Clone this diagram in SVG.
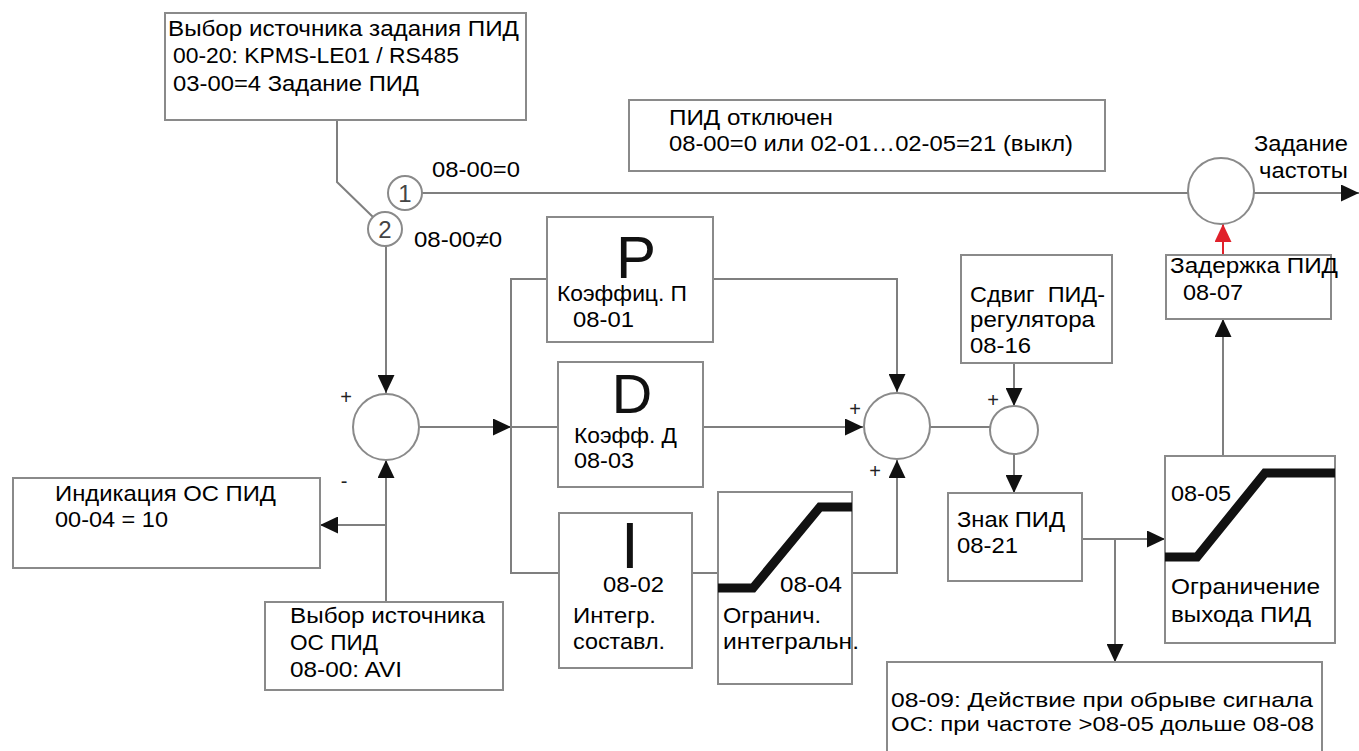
<svg xmlns="http://www.w3.org/2000/svg" width="1359" height="751" viewBox="0 0 1359 751">
<defs>
<style>
.box{fill:#fff;stroke:#8a8a8a;stroke-width:2}
.cir{fill:#fff;stroke:#8a8a8a;stroke-width:2}
.ln{fill:none;stroke:#7f7f7f;stroke-width:2}
.red{fill:none;stroke:#e0202a;stroke-width:2}
.curve{fill:none;stroke:#111;stroke-width:9;stroke-linejoin:miter}
.t{font-family:"Liberation Sans","Open Sans",sans-serif;font-size:22px;fill:#000}
.s{font-size:21px}
.big{font-family:"Liberation Sans","Open Sans",sans-serif;fill:#111;text-anchor:middle}
.sg{font-family:"Liberation Sans",sans-serif;font-size:20px;fill:#222;text-anchor:middle}
.num{font-family:"Liberation Sans",sans-serif;font-size:24px;fill:#444;text-anchor:middle}
</style>
<marker id="arr" markerUnits="userSpaceOnUse" markerWidth="18" markerHeight="17" refX="18" refY="8.5" orient="auto" viewBox="0 0 18 17">
<path d="M0,0 L18,8.5 L0,17 z" fill="#111"/>
</marker>
<marker id="arrRed" markerUnits="userSpaceOnUse" markerWidth="18" markerHeight="17" refX="18" refY="8.5" orient="auto" viewBox="0 0 18 17">
<path d="M0,0 L18,8.5 L0,17 z" fill="#e0202a"/>
</marker>
</defs>

<g id="connectors">
<polyline class="ln" points="337,121 337,182 373,217"/>
<line class="ln" x1="422" y1="193" x2="1188" y2="193"/>
<line class="ln" x1="1254" y1="193" x2="1359" y2="193" marker-end="url(#arr)"/>
<line class="ln" x1="386" y1="246" x2="386" y2="393" marker-end="url(#arr)"/>
<line class="ln" x1="420" y1="427" x2="511" y2="427" marker-end="url(#arr)"/>
<line class="ln" x1="511" y1="427" x2="558" y2="427"/>
<polyline class="ln" points="547,279 511,279 511,573 559,573"/>
<polyline class="ln" points="713,279 897,279 897,392" marker-end="url(#arr)"/>
<line class="ln" x1="703" y1="427" x2="863" y2="427" marker-end="url(#arr)"/>
<line class="ln" x1="692" y1="573" x2="718" y2="573"/>
<polyline class="ln" points="852,573 897,573 897,460" marker-end="url(#arr)"/>
<line class="ln" x1="930" y1="427" x2="990" y2="427"/>
<line class="ln" x1="1014" y1="363" x2="1014" y2="406" marker-end="url(#arr)"/>
<line class="ln" x1="1014" y1="454" x2="1014" y2="493" marker-end="url(#arr)"/>
<line class="ln" x1="1082" y1="539" x2="1165" y2="539" marker-end="url(#arr)"/>
<line class="ln" x1="1115" y1="539" x2="1115" y2="662" marker-end="url(#arr)"/>
<line class="ln" x1="1223" y1="456" x2="1223" y2="319" marker-end="url(#arr)"/>
<line class="red" x1="1223" y1="255" x2="1223" y2="224" marker-end="url(#arrRed)"/>
<line class="ln" x1="386" y1="602" x2="386" y2="460" marker-end="url(#arr)"/>
<line class="ln" x1="386" y1="525" x2="320" y2="525" marker-end="url(#arr)"/>
</g>

<g id="ref-source">
<rect class="box" x="165" y="13" width="361" height="107"/>
<text class="t" x="168" y="36" textLength="351" lengthAdjust="spacingAndGlyphs">Выбор источника задания ПИД</text>
<text class="t" x="173" y="63" textLength="286" lengthAdjust="spacingAndGlyphs">00-20: KPMS-LE01 / RS485</text>
<text class="t" x="173" y="91" textLength="246" lengthAdjust="spacingAndGlyphs">03-00=4 Задание ПИД</text>
</g>

<g id="switch1">
<circle class="cir" cx="405" cy="193" r="17"/>
<text class="num" x="405" y="202">1</text>
<text class="t" x="432" y="177" textLength="88" lengthAdjust="spacingAndGlyphs">08-00=0</text>
</g>

<g id="switch2">
<circle class="cir" cx="385" cy="229" r="17"/>
<text class="num" x="385" y="238">2</text>
<text class="t" x="414" y="247" textLength="88" lengthAdjust="spacingAndGlyphs">08-00≠0</text>
</g>

<g id="pid-off">
<rect class="box" x="629" y="100" width="476" height="71"/>
<text class="t" x="669" y="125" textLength="164" lengthAdjust="spacingAndGlyphs">ПИД отключен</text>
<text class="t" x="669" y="151" textLength="404" lengthAdjust="spacingAndGlyphs">08-00=0 или 02-01…02-05=21 (выкл)</text>
</g>

<g id="freq-sum">
<circle class="cir" cx="1221" cy="191" r="33"/>
<text class="t" x="1254" y="151" textLength="94" lengthAdjust="spacingAndGlyphs">Задание</text>
<text class="t" x="1259" y="178" textLength="89" lengthAdjust="spacingAndGlyphs">частоты</text>
</g>

<g id="sum1">
<circle class="cir" cx="386" cy="427" r="33"/>
<text class="sg" x="346" y="404">+</text>
<text class="sg" x="344" y="488">-</text>
</g>

<g id="fb-display">
<rect class="box" x="13" y="478" width="307" height="90"/>
<text class="t" x="55" y="501" textLength="221" lengthAdjust="spacingAndGlyphs">Индикация ОС ПИД</text>
<text class="t" x="55" y="527" textLength="113" lengthAdjust="spacingAndGlyphs">00-04 = 10</text>
</g>

<g id="fb-source">
<rect class="box" x="265" y="602" width="238" height="88"/>
<text class="t" x="290" y="623" textLength="195" lengthAdjust="spacingAndGlyphs">Выбор источника</text>
<text class="t" x="290" y="650" textLength="88" lengthAdjust="spacingAndGlyphs">ОС ПИД</text>
<text class="t" x="290" y="677" textLength="112" lengthAdjust="spacingAndGlyphs">08-00: AVI</text>
</g>

<g id="p-block">
<rect class="box" x="547" y="217" width="166" height="125"/>
<text class="big" x="636" y="278" font-size="60">P</text>
<text class="t" x="557" y="301" textLength="130" lengthAdjust="spacingAndGlyphs">Коэффиц. П</text>
<text class="t" x="573" y="327" textLength="61" lengthAdjust="spacingAndGlyphs">08-01</text>
</g>

<g id="d-block">
<rect class="box" x="558" y="362" width="145" height="125"/>
<text class="big" x="632" y="413" font-size="56">D</text>
<text class="t" x="574" y="443" textLength="103" lengthAdjust="spacingAndGlyphs">Коэфф. Д</text>
<text class="t" x="574" y="468" textLength="60" lengthAdjust="spacingAndGlyphs">08-03</text>
</g>

<g id="i-block">
<rect class="box" x="559" y="513" width="133" height="155"/>
<text class="big" x="630" y="568" font-size="64">I</text>
<text class="t" x="603" y="592" textLength="61" lengthAdjust="spacingAndGlyphs">08-02</text>
<text class="t" x="573" y="623" textLength="83" lengthAdjust="spacingAndGlyphs">Интегр.</text>
<text class="t" x="573" y="649" textLength="92" lengthAdjust="spacingAndGlyphs">составл.</text>
</g>

<g id="i-limit">
<rect class="box" x="718" y="492" width="134" height="192"/>
<polyline class="curve" points="718,588 753,588 820,507 852,507"/>
<text class="t" x="780" y="592" textLength="62" lengthAdjust="spacingAndGlyphs">08-04</text>
<text class="t" x="723" y="623" textLength="98" lengthAdjust="spacingAndGlyphs">Огранич.</text>
<text class="t" x="723" y="649" textLength="136" lengthAdjust="spacingAndGlyphs">интегральн.</text>
</g>

<g id="sum2">
<circle class="cir" cx="897" cy="426" r="33"/>
<text class="sg" x="855" y="416">+</text>
<text class="sg" x="875" y="478">+</text>
</g>

<g id="offset">
<rect class="box" x="961" y="255" width="151" height="108"/>
<text class="t" x="970" y="302" textLength="135" lengthAdjust="spacingAndGlyphs" xml:space="preserve">Сдвиг  ПИД-</text>
<text class="t" x="970" y="327" textLength="125" lengthAdjust="spacingAndGlyphs">регулятора</text>
<text class="t" x="970" y="353" textLength="61" lengthAdjust="spacingAndGlyphs">08-16</text>
</g>

<g id="sum3">
<circle class="cir" cx="1014" cy="430" r="24"/>
<text class="sg" x="993" y="407">+</text>
</g>

<g id="sign">
<rect class="box" x="948" y="493" width="134" height="88"/>
<text class="t" x="957" y="527" textLength="108" lengthAdjust="spacingAndGlyphs">Знак ПИД</text>
<text class="t" x="957" y="553" textLength="61" lengthAdjust="spacingAndGlyphs">08-21</text>
</g>

<g id="out-limit">
<rect class="box" x="1165" y="456" width="170" height="187"/>
<polyline class="curve" points="1165,557 1197,557 1265,473 1335,473"/>
<text class="t" x="1171" y="501" textLength="60" lengthAdjust="spacingAndGlyphs">08-05</text>
<text class="t" x="1171" y="594" textLength="149" lengthAdjust="spacingAndGlyphs">Ограничение</text>
<text class="t" x="1171" y="622" textLength="140" lengthAdjust="spacingAndGlyphs">выхода ПИД</text>
</g>

<g id="delay">
<rect class="box" x="1166" y="255" width="165" height="64"/>
<text class="t" x="1170" y="273" textLength="168" lengthAdjust="spacingAndGlyphs">Задержка ПИД</text>
<text class="t" x="1183" y="300" textLength="60" lengthAdjust="spacingAndGlyphs">08-07</text>
</g>

<g id="fb-loss">
<rect class="box" x="887" y="662" width="435" height="100"/>
<text class="t s" x="891" y="707" textLength="422" lengthAdjust="spacingAndGlyphs">08-09: Действие при обрыве сигнала</text>
<text class="t s" x="891" y="731" textLength="423" lengthAdjust="spacingAndGlyphs">ОС: при частоте &gt;08-05 дольше 08-08</text>
</g>
</svg>
